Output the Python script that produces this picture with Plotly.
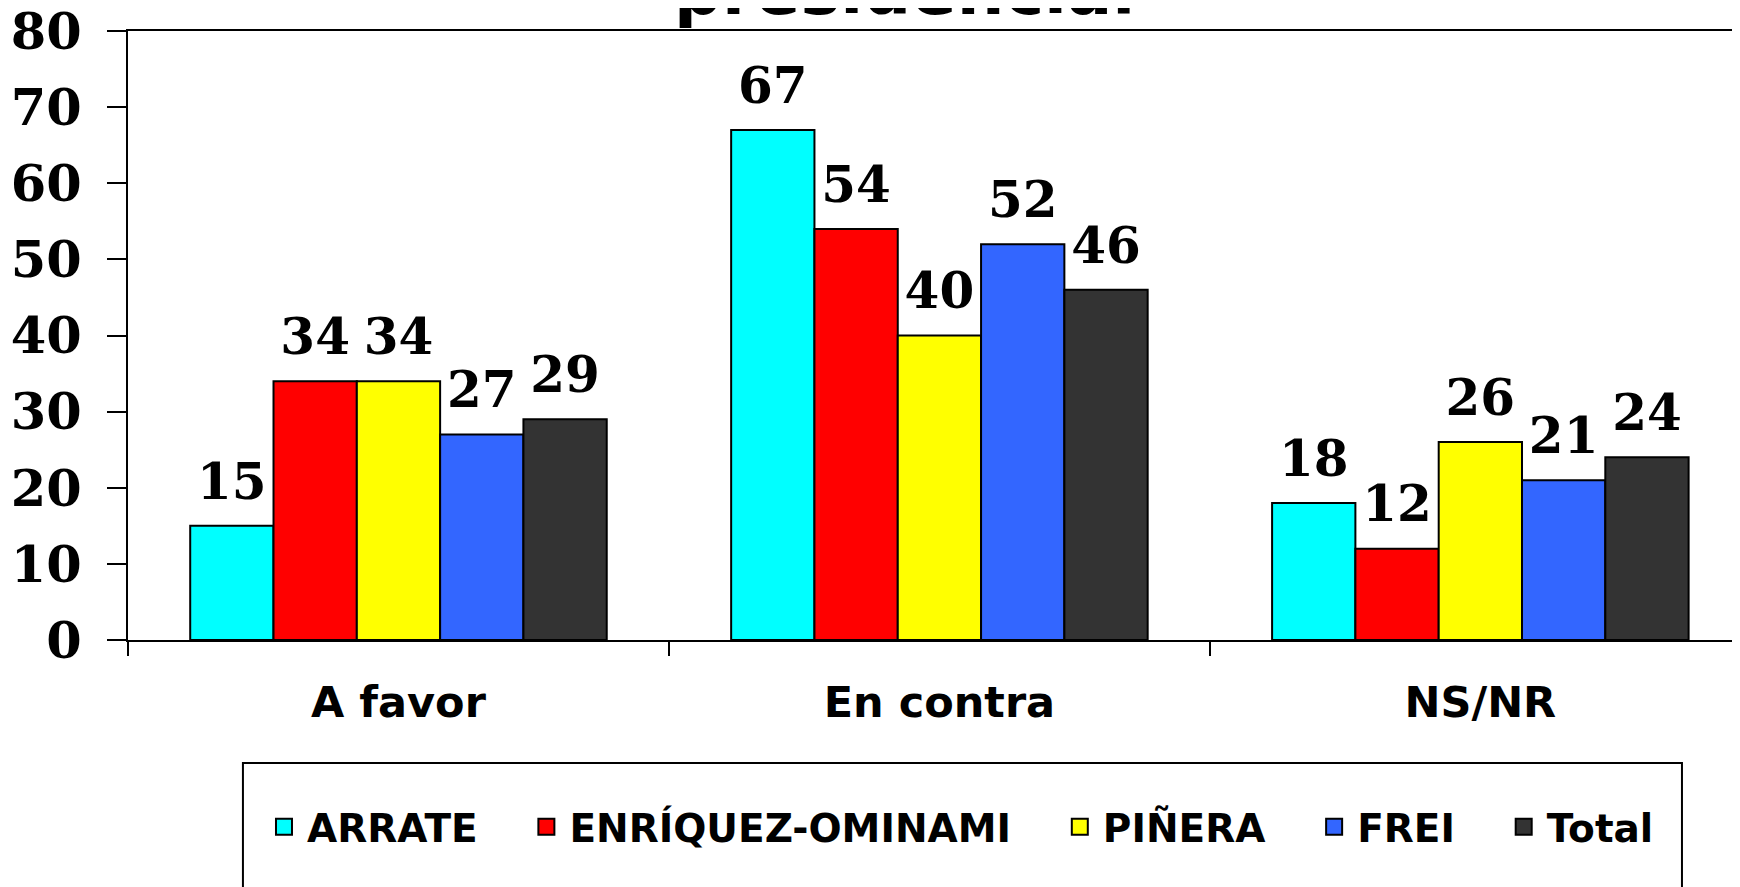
import plotly.graph_objects as go

# datos de la encuesta (porcentajes)
categorias = ["A favor", "En contra", "NS/NR"]
candidatos = ["ARRATE", "ENRÍQUEZ-OMINAMI", "PIÑERA", "FREI", "Total"]
arrate = [15, 67, 18]
enriquez = [34, 54, 12]
pinera = [34, 40, 26]
frei = [27, 52, 21]
total = [29, 46, 24]
y_ticks = [0, 10, 20, 30, 40, 50, 60, 70, 80]

series = [arrate, enriquez, pinera, frei, total]
colores = ["#00FFFF", "#FF0000", "#FFFF00", "#3366FF", "#333333"]

SERIF = "DejaVu Serif, Times New Roman, serif"
SANS = "DejaVu Sans, Arial, sans-serif"
NBSP = "\u00a0"

fig = go.Figure()
for i, (nombre, valores, color) in enumerate(zip(candidatos, series, colores)):
    # barras
    fig.add_trace(go.Bar(
        x=categorias, y=valores, name=nombre, showlegend=False,
        offsetgroup=str(i),
        marker=dict(color=color, line=dict(color="black", width=2)),
    ))
    # etiquetas sobre las barras (marcador invisible para separarlas)
    fig.add_trace(go.Scatter(
        x=categorias, y=valores, mode="markers+text", showlegend=False,
        offsetgroup=str(i),
        text=valores, textposition="top center", cliponaxis=False,
        marker=dict(size=22, opacity=0), hoverinfo="skip",
        textfont=dict(family=SERIF, size=50, color="black", weight="bold"),
    ))
for i, (nombre, color) in enumerate(zip(candidatos, colores)):
    # entradas de la leyenda
    etiqueta = nombre if i == len(candidatos) - 1 else nombre + NBSP * 3
    fig.add_trace(go.Scatter(
        x=[None], y=[None], mode="markers", name=etiqueta,
        marker=dict(symbol="square", size=16, color=color,
                    line=dict(color="black", width=2)),
    ))

# la página añade 8 px de margen al cuerpo: se compensa aquí
fig.update_layout(
    width=1732, height=879,
    margin=dict(l=120, r=0, t=23, b=247),
    paper_bgcolor="white", plot_bgcolor="white",
    barmode="group", bargap=0.23, bargroupgap=0,
    scattermode="group", scattergap=0.23,
    showlegend=True,
    legend=dict(
        orientation="h", x=0.0825, y=-0.307, xanchor="left", yanchor="middle",
        itemwidth=36,
        font=dict(family=SANS, size=39, color="black", weight="bold"),
        bgcolor="rgba(0,0,0,0)", borderwidth=0,
    ),
)

fig.update_yaxes(
    range=[0, 80], tickvals=y_ticks, showgrid=False, automargin=False,
    showline=True, linecolor="black", linewidth=2,
    ticks="outside", ticklen=19, tickwidth=2, tickcolor="black",
    ticklabelstandoff=15, ticklabeloverflow="allow",
    tickfont=dict(family=SERIF, size=51, color="black", weight="bold"),
    zeroline=False,
)
fig.update_xaxes(
    range=[-0.5, 2.48], showgrid=False, automargin=False,
    showline=True, linecolor="black", linewidth=2, mirror=True,
    ticks="outside", tickson="boundaries", ticklen=14, tickwidth=2, tickcolor="black",
    ticklabelstandoff=23,
    tickfont=dict(family=SANS, size=43, color="black", weight="bold"),
)

# recuadro de la leyenda
fig.add_shape(type="rect", xref="paper", yref="paper",
              x0=0.0713, x1=0.964, y0=-0.202, y1=-0.5,
              line=dict(color="black", width=2), fillcolor="rgba(0,0,0,0)")

# título (cortado en el borde superior)
fig.add_annotation(text="presidencial", xref="paper", yref="paper",
                   x=0.482, y=0.998, xanchor="center", yanchor="bottom",
                   showarrow=False,
                   font=dict(family=SANS, size=67, color="black", weight="bold"))

fig.write_html("out.html")
